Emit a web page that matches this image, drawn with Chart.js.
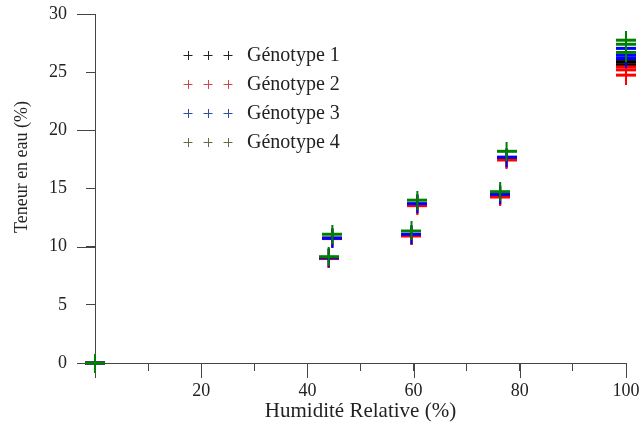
<!DOCTYPE html>
<html>
<head>
<meta charset="utf-8">
<script src="https://cdn.jsdelivr.net/npm/chart.js@4/dist/chart.umd.min.js"></script>
<style>
    html, body { margin: 0; padding: 0; background: #ffffff; overflow: hidden; }
</style>
</head>
<body>
<canvas id="chart" width="642" height="430"></canvas>
<script>
const genotypeLabels = ["Génotype 1", "Génotype 2", "Génotype 3", "Génotype 4"];

// relative humidity (x) for each reading, shared by all genotypes
const humidity = [0, 44.0, 44.7, 59.6, 60.7, 76.3, 77.5, 100, 100, 100];

// water content (y) for each genotype
const genotype1 = [0, 9.0, 10.75, 11.0, 13.62, 14.4, 17.55, 26.1, 25.85, 25.6];
const genotype2 = [0, 8.98, 10.7, 10.92, 13.53, 14.27, 17.45, 25.45, 25.2, 24.75];
const genotype3 = [0, 9.05, 10.72, 11.07, 13.7, 14.5, 17.7, 27.05, 26.45, 26.2];
const genotype4 = [0, 9.14, 11.07, 11.35, 14.0, 14.73, 18.2, 27.75, 27.4, 26.7];

const markerColors = ["#000000", "#ff0000", "#0000ff", "#008000"];
const legendColors = ["#222222", "#d04848", "#3050a0", "#5a7040"];

const yTitle = "Teneur en eau (%)";
const xTitle = "Humidité Relative (%)";

const SERIF = "'Liberation Serif', 'Times New Roman', serif";
const INK = "#222222";
const AXIS = "#454545";

function plusMarker(color) {
    const c = document.createElement("canvas");
    c.width = 20;
    c.height = 19;
    const g = c.getContext("2d");
    g.fillStyle = color;
    g.fillRect(0, 8, 20, 3);
    g.fillRect(9, 0, 2, 19);
    return c;
}

function toPoints(values) {
    return values.map((v, i) => ({ x: humidity[i], y: v }));
}

const seriesValues = [genotype1, genotype2, genotype3, genotype4];

// longer ticks on the major values, drawn through the scales
const majorTicks = {
    id: "majorTicks",
    beforeDatasetsDraw(chart) {
        const { ctx, scales: { x, y } } = chart;
        ctx.save();
        ctx.strokeStyle = AXIS;
        ctx.lineWidth = 1;
        ctx.beginPath();
        [0, 10, 20, 30].forEach((v) => {
            const py = Math.round(y.getPixelForValue(v)) + 0.5;
            ctx.moveTo(x.left - 18, py);
            ctx.lineTo(x.left, py);
        });
        [0, 20, 40, 60, 80, 100].forEach((v) => {
            const px = Math.round(x.getPixelForValue(v)) + 0.5;
            ctx.moveTo(px, y.bottom);
            ctx.lineTo(px, y.bottom + 15);
        });
        ctx.stroke();
        ctx.restore();
    },
};

// y title sits a little above the middle of the axis in the original
const sideTitle = {
    id: "sideTitle",
    afterDraw(chart) {
        const ctx = chart.ctx;
        ctx.save();
        ctx.font = "18px " + SERIF;
        ctx.fillStyle = INK;
        ctx.textAlign = "center";
        ctx.textBaseline = "middle";
        ctx.translate(22, 167);
        ctx.rotate(-Math.PI / 2);
        ctx.fillText(yTitle, 0, 0);
        ctx.restore();
    },
};

// legend sits inside the plot, three small crosses before each label
const insideLegend = {
    id: "insideLegend",
    afterDraw(chart) {
        const ctx = chart.ctx;
        ctx.save();
        ctx.font = "20px " + SERIF;
        ctx.textBaseline = "middle";
        ctx.lineWidth = 1;
        chart.data.datasets.forEach((ds, i) => {
            const y = 55 + i * 29;
            ctx.strokeStyle = legendColors[i];
            ctx.beginPath();
            [188, 208, 228].forEach((cx) => {
                ctx.moveTo(cx - 4.5, y + 0.5);
                ctx.lineTo(cx + 4.5, y + 0.5);
                ctx.moveTo(cx + 0.5, y - 4);
                ctx.lineTo(cx + 0.5, y + 5);
            });
            ctx.stroke();
            ctx.fillStyle = INK;
            ctx.fillText(ds.label, 247, y + 1);
        });
        ctx.restore();
    },
};

new Chart(document.getElementById("chart"), {
    type: "scatter",
    data: {
        datasets: seriesValues.map((values, i) => ({
            label: genotypeLabels[i],
            data: toPoints(values),
            pointStyle: plusMarker(markerColors[i]),
            borderColor: markerColors[i],
            backgroundColor: markerColors[i],
            order: seriesValues.length - 1 - i,
            clip: false,
        })),
    },
    options: {
        responsive: false,
        animation: false,
        devicePixelRatio: 1,
        layout: { padding: { top: 14, right: 16, left: 0, bottom: 0 } },
        plugins: {
            legend: { display: false },
            tooltip: { enabled: false },
        },
        scales: {
            x: {
                type: "linear",
                min: 0,
                max: 100,
                grid: { drawOnChartArea: false, tickLength: 8, color: AXIS },
                border: { color: AXIS },
                ticks: {
                    stepSize: 10,
                    autoSkip: false,
                    maxRotation: 0,
                    padding: 9,
                    color: INK,
                    font: { family: SERIF, size: 18 },
                    callback: (v) => (v !== 0 && v % 20 === 0 ? v : ""),
                },
                title: {
                    display: true,
                    text: xTitle,
                    color: INK,
                    font: { family: SERIF, size: 21 },
                    padding: { top: 5, bottom: 6 },
                },
                afterFit: (scale) => {
                    scale.height = 67;
                    scale.paddingLeft = 0;
                    scale.paddingRight = 0;
                },
            },
            y: {
                min: 0,
                max: 30,
                grid: { drawOnChartArea: false, tickLength: 9, color: AXIS },
                border: { color: AXIS },
                ticks: {
                    stepSize: 5,
                    padding: 19,
                    color: INK,
                    font: { family: SERIF, size: 18 },
                },
                afterFit: (scale) => {
                    scale.width = 95;
                    scale.paddingTop = 0;
                    scale.paddingBottom = 0;
                },
            },
        },
    },
    plugins: [majorTicks, sideTitle, insideLegend],
});
</script>
</body>
</html>
